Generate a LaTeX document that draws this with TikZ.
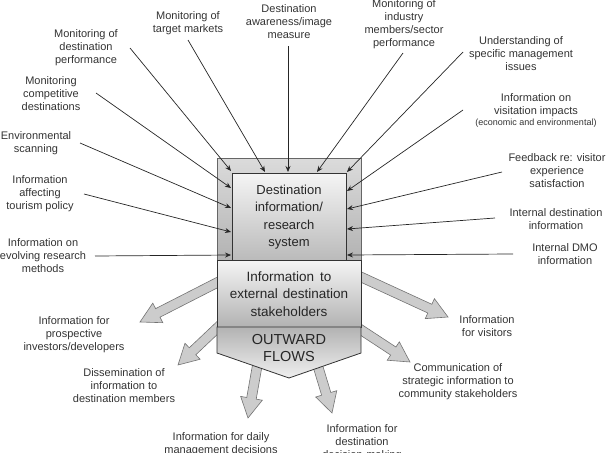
\documentclass[tikz,border=0pt]{standalone}
\usepackage{fontspec}
\setmainfont{Liberation Sans}
\usetikzlibrary{calc,arrows.meta}
\newcommand{\fatarr}[2]{%
  \coordinate (fa-h) at ($(#2)!20pt!(#1)$);
  \draw[fat] ($(#1)!4.8pt!90:(#2)$) -- ($(fa-h)!4.8pt!90:(#2)$) -- ($(fa-h)!11pt!90:(#2)$) -- (#2)
    -- ($(fa-h)!11pt!-90:(#2)$) -- ($(fa-h)!4.8pt!-90:(#2)$) -- ($(#1)!4.8pt!-90:(#2)$) -- cycle;}
\begin{document}
\begin{tikzpicture}[x=1pt,y=-1pt,
  lbl/.style={align=center, font=\fontsize{11}{13}\selectfont, text=black!80, inner sep=0pt},
  inarrow/.style={draw=black!85, line width=0.7pt, -{Stealth[length=6pt,width=5pt]}},
  fat/.style={draw=black!55, line width=0.6pt, fill=black!20},
  boxtxt/.style={align=center, font=\fontsize{13}{17.3}\selectfont, text=black!85, inner sep=0pt}]
\useasboundingbox (0,0) rectangle (606,453);
\clip (0,0) rectangle (606,453);

% ---------- outward fat arrows (behind the box) ----------
\coordinate (s1) at (230,276); \coordinate (t1) at (140,322);
\coordinate (s2) at (232,314); \coordinate (t2) at (178,365);
\coordinate (s3) at (260,350); \coordinate (t3) at (248,418);
\coordinate (s4) at (313,350); \coordinate (t4) at (332,413);
\coordinate (s5) at (348,271); \coordinate (t5) at (448,317);
\coordinate (s6) at (346,320); \coordinate (t6) at (410,362);
\fatarr{s1}{t1}
\fatarr{s2}{t2}
\fatarr{s3}{t3}
\fatarr{s4}{t4}
\fatarr{s5}{t5}
\fatarr{s6}{t6}

% ---------- central box ----------
\path[draw=black!60, line width=0.7pt, top color=black!14, bottom color=black!30] (217,158) rectangle (361,260);
\path[draw=black!80, line width=0.8pt, top color=black!4, bottom color=black!27] (232,173) rectangle (346,260);
\path[draw=black!80, line width=0.8pt, top color=black!4, bottom color=black!30] (217,260) rectangle (361,327);
\path[draw=black!80, line width=0.8pt, top color=black!30, bottom color=black!6]
  (217,327) -- (361,327) -- (361,353) -- (289,378) -- (217,353) -- cycle;

\node[boxtxt] (dis) at (289,217) {Destination\\information/\\research\\system};
\node[boxtxt, font=\fontsize{13.5}{17.3}\selectfont] (ext) at (289,294) {Information\hspace{6pt}to\\external\hspace{5pt}destination\\stakeholders};
\node[boxtxt, font=\fontsize{14.5}{17.3}\selectfont] (outf) at (289,348) {OUTWARD\\FLOWS};

% ---------- input labels ----------
\node[lbl] (perf) at (86,48) {Monitoring of\\destination\\performance};
\node[lbl] (target) at (188,23.5) {Monitoring of\\target markets};
\node[lbl] (aware) at (289,22) {Destination\\awareness/image\\measure};
\node[lbl] (industry) at (404,24) {Monitoring of\\industry\\members/sector\\performance};
\node[lbl] (underst) at (521,54) {Understanding of\\specific management\\issues};
\node[lbl] (impacts) at (536,110) {Information on\\visitation impacts\\[-2pt]{\fontsize{9}{10}\selectfont (economic and environmental)}};
\node[lbl] (compet) at (51,94) {Monitoring\\competitive\\destinations};
\node[lbl] (envir) at (36,143) {Environmental\\scanning};
\node[lbl] (policy) at (40,194) {Information\\affecting\\tourism policy};
\node[lbl] (resmeth) at (43,256) {Information on\\evolving research\\methods};
\node[lbl] (feedb) at (557,171) {Feedback re: visitor\\experience\\satisfaction};
\node[lbl] (intdest) at (556,219) {Internal destination\\information};
\node[lbl] (intdmo) at (565,254) {Internal DMO\\information};

% ---------- output labels ----------
\node[lbl] (invest) at (74,335) {Information for\\prospective\\investors/developers};
\node[lbl] (dissem) at (124,386) {Dissemination of\\information to\\destination members};
\node[lbl] (daily) at (221,444.5) {Information for daily\\management decisions};
\node[lbl] (destdec) at (362,443) {Information for\\destination\\decision-making};
\node[lbl] (visit) at (487,326) {Information\\for visitors};
\node[lbl] (commun) at (458,382) {Communication of\\strategic information to\\community stakeholders};

% ---------- input connectors ----------
\coordinate (a1) at (130,48);  \coordinate (b1) at (231,171);
\coordinate (a2) at (188,40);  \coordinate (b2) at (265,172);
\coordinate (a3) at (288,46);  \coordinate (b3) at (288,172);
\coordinate (a4) at (403,53);  \coordinate (b4) at (317,172);
\coordinate (a5) at (463,52);  \coordinate (b5) at (347,172);
\coordinate (a6) at (463,110); \coordinate (b6) at (347,191);
\coordinate (a7) at (96,93);   \coordinate (b7) at (231,188);
\coordinate (a8) at (80,143);  \coordinate (b8) at (231,208);
\coordinate (a9) at (84,194);  \coordinate (b9) at (231,232);
\coordinate (a10) at (95,256); \coordinate (b10) at (231,255);
\coordinate (a11) at (502,172); \coordinate (b11) at (347,209);
\coordinate (a12) at (495,218); \coordinate (b12) at (347,229);
\coordinate (a13) at (513,254); \coordinate (b13) at (347,255);
\foreach \i in {1,...,13} {\draw[inarrow] (a\i) -- (b\i);}
\end{tikzpicture}
\end{document}
